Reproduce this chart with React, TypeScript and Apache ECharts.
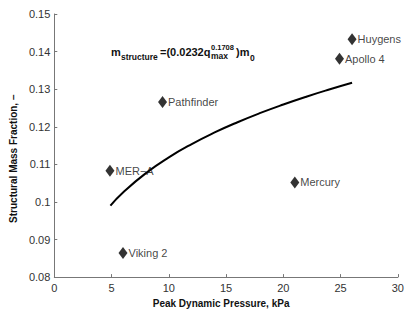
import React, { useEffect, useRef } from "react";
import * as echarts from "echarts";

const missionNames = ["Huygens", "Apollo 4", "Pathfinder", "MER\u2212A", "Mercury", "Viking 2"];
const peakPressure = [26.0, 24.9, 9.45, 4.86, 21.0, 6.0];
const massFraction = [0.1433, 0.1381, 0.1266, 0.1083, 0.1052, 0.0864];

const fitPressure = [4.9, 6, 8, 10, 12, 14, 16, 18, 20, 22, 24, 26];
const fitFraction = [0.09903, 0.10251, 0.10767, 0.11186, 0.1154, 0.11848, 0.12121, 0.12368, 0.12592, 0.12799, 0.1299, 0.13169];

const xTicks = { min: 0, max: 30, interval: 5 };
const yTicks = { min: 0.08, max: 0.15, interval: 0.01 };

const FONT = "Liberation Sans, Arial, Helvetica, sans-serif";

export default function App() {
  const ref = useRef<HTMLDivElement>(null);
  useEffect(() => {
    if (!ref.current) return;
    const chart = echarts.init(ref.current, undefined, { renderer: "svg" });
    const eqStyle = { fontFamily: FONT, fontWeight: "bold", fill: "#111" };
    chart.setOption({
      animation: false,
      backgroundColor: "#fff",
      grid: { left: 53, right: 9, top: 14, bottom: 28, containLabel: false },
      xAxis: {
        type: "value",
        min: xTicks.min,
        max: xTicks.max,
        interval: xTicks.interval,
        name: "Peak Dynamic Pressure, kPa",
        nameLocation: "middle",
        nameGap: 15,
        nameTextStyle: { fontFamily: FONT, fontWeight: "bold", fontSize: 10, color: "#111", padding: [0, 10, 0, 0] },
        axisLine: { lineStyle: { color: "#777", width: 1 } },
        axisTick: { inside: true, length: 3, lineStyle: { color: "#777" } },
        axisLabel: { fontFamily: FONT, fontSize: 11, color: "#333", margin: 5 },
        splitLine: { show: false },
      },
      yAxis: {
        type: "value",
        min: yTicks.min,
        max: yTicks.max,
        interval: yTicks.interval,
        name: "Structural Mass Fraction, \u2212",
        nameLocation: "middle",
        nameGap: 30,
        nameTextStyle: { fontFamily: FONT, fontWeight: "bold", fontSize: 10, color: "#111", padding: [0, 26, 0, 0] },
        axisLine: { show: true, lineStyle: { color: "#777", width: 1 } },
        axisTick: { show: true, inside: true, length: 3, lineStyle: { color: "#777" } },
        axisLabel: {
          fontFamily: FONT,
          fontSize: 11,
          color: "#333",
          margin: 4,
          formatter: (v: number) => String(parseFloat(v.toFixed(2))),
        },
        splitLine: { show: false },
      },
      series: [
        {
          type: "line",
          data: fitPressure.map((q, i) => [q, fitFraction[i]]),
          smooth: true,
          showSymbol: false,
          lineStyle: { color: "#000", width: 2 },
          z: 2,
        },
        {
          type: "scatter",
          data: missionNames.map((n, i) => ({ name: n, value: [peakPressure[i], massFraction[i]] })),
          symbol: "diamond",
          symbolSize: [9, 12],
          itemStyle: { color: "#000" },
          label: {
            show: true,
            position: "right",
            distance: 1,
            formatter: (p: any) => p.name,
            fontFamily: FONT,
            fontSize: 11,
            color: "#111",
          },
          z: 3,
        },
      ],
      graphic: [
        { type: "text", x: 111, y: 52, style: { ...eqStyle, text: "m", fontSize: 11, verticalAlign: "middle" } },
        { type: "text", x: 121, y: 57, style: { ...eqStyle, text: "structure", fontSize: 8.5, verticalAlign: "middle" } },
        { type: "text", x: 160, y: 52, style: { ...eqStyle, text: "=(0.0232q", fontSize: 11, verticalAlign: "middle" } },
        { type: "text", x: 211, y: 47, style: { ...eqStyle, text: "0.1708", fontSize: 7.5, verticalAlign: "middle" } },
        { type: "text", x: 211, y: 56, style: { ...eqStyle, text: "max", fontSize: 8.5, verticalAlign: "middle" } },
        { type: "text", x: 236, y: 52, style: { ...eqStyle, text: ")m", fontSize: 11, verticalAlign: "middle" } },
        { type: "text", x: 250, y: 58, style: { ...eqStyle, text: "0", fontSize: 8.5, verticalAlign: "middle" } },
      ],
    });
    return () => chart.dispose();
  }, []);
  return <div ref={ref} style={{ width: 407, height: 313, position: "absolute", left: 0, top: 0 }} />;
}
